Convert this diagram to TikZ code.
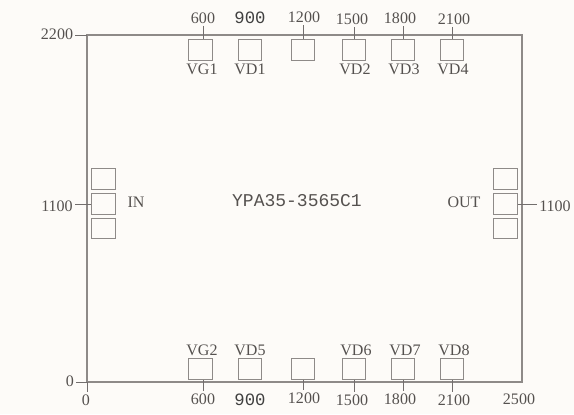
\documentclass[tikz,border=0pt]{standalone}
\usepackage{fontspec}
\setmainfont{Liberation Serif}
\setmonofont{Liberation Mono}
\usepackage{tikz}
\definecolor{paper}{HTML}{FDFBF8}
\definecolor{frameline}{HTML}{8E8A88}
\definecolor{inktext}{HTML}{55514F}
\tikzset{
  pad/.style={draw=frameline,line width=0.7pt,minimum width=0.66cm,minimum height=0.58cm,inner sep=0pt},
  lab/.style={text=inktext,font=\fontsize{13}{14}\selectfont,inner sep=0pt,outer sep=2pt},
  darklab/.style={lab,text=black!75,font=\ttfamily\fontsize{14}{15}\selectfont},
  tick/.style={draw=frameline!80!black,line width=0.6pt}
}
\begin{document}
\begin{tikzpicture}[x=0.0285cm,y=-0.0285cm]
\useasboundingbox[fill=paper] (0,0) rectangle (574,414);
% outline
\coordinate (tl) at (87,35);
\coordinate (tr) at (522,35);
\coordinate (br) at (522,382);
\coordinate (bl) at (87,382);
\draw[frameline,line width=0.9pt] (tl) -- (tr) -- (br) -- (bl) -- cycle;
% top pads
\node[pad] (g1) at (200.5,50) {};
\node[pad] (d1) at (250,50) {};
\node[pad] (t3) at (303,50) {};
\node[pad] (d2) at (354,50) {};
\node[pad] (d3) at (403,50) {};
\node[pad] (d4) at (452,50) {};
\node[lab] (g1l) at (202,69) {VG1};
\node[lab] (d1l) at (250,69) {VD1};
\node[lab] (d2l) at (355,69) {VD2};
\node[lab] (d3l) at (404,69) {VD3};
\node[lab] (d4l) at (453,69) {VD4};
\node[lab] (n1) at (203,18) {600};
\node[darklab] (n2) at (250,18) {900};
\node[lab] (n3) at (304,17) {1200};
\node[lab] (n4) at (352,19) {1500};
\node[lab] (n5) at (400,18) {1800};
\node[lab] (n6) at (454,19) {2100};
\draw[tick] (n1.south) -- (n1.south |- g1.north);
\draw[tick] (t3.north) -- (t3.north |- n3.south);
\draw[tick] (d2.north) -- (d2.north |- n4.south);
\draw[tick] (d3.north) -- (d3.north |- n5.south);
\draw[tick] (d4.north) -- (d4.north |- n6.south);
% bottom pads
\node[pad] (g2) at (200.5,369) {};
\node[pad] (d5) at (250,369) {};
\node[pad] (b3) at (303,369) {};
\node[pad] (d6) at (354,369) {};
\node[pad] (d7) at (403,369) {};
\node[pad] (d8) at (452,369) {};
\node[lab] (g2l) at (202,350) {VG2};
\node[lab] (d5l) at (250,350) {VD5};
\node[lab] (d6l) at (356,350) {VD6};
\node[lab] (d7l) at (405,350) {VD7};
\node[lab] (d8l) at (454,350) {VD8};
\node[lab] (s1) at (203,399) {600};
\node[darklab] (s2) at (250,400) {900};
\node[lab] (s3) at (304,398) {1200};
\node[lab] (s4) at (352,400) {1500};
\node[lab] (s5) at (400,399) {1800};
\node[lab] (s6) at (454,400) {2100};
\node[lab] (s7) at (519,399) {2500};
\node[lab] (s0) at (86,400) {0};
\draw[tick] (s1.north) -- (s1.north |- g2.south);
\draw[tick] (b3.south) -- (b3.south |- s3.north);
\draw[tick] (d6.south) -- (d6.south |- s4.north);
\draw[tick] (d7.south) -- (d7.south |- s5.north);
\draw[tick] (d8.south) -- (d8.south |- s6.north);
\draw[tick] (bl) -- (bl |- s0.north);
% left pads
\node[pad] (i1) at (103.5,179) {};
\node[pad] (i2) at (103.5,204) {};
\node[pad] (i3) at (103.5,228.5) {};
\node[lab] (in) at (136,202) {IN};
\node[lab] (y1) at (57,206) {1100};
\node[lab] (y2) at (57,34) {2200};
\node[lab] (y0) at (70,381) {0};
\draw[tick] (i2.west) -- (i2.west -| y1.east);
\draw[tick] (tl) -- (tl -| y2.east);
\draw[tick] (bl) -- (bl -| y0.east);
% right pads
\node[pad] (o1) at (505.5,179) {};
\node[pad] (o2) at (505.5,204) {};
\node[pad] (o3) at (505.5,228.5) {};
\node[lab] (out) at (464,202) {OUT};
\node[lab] (y3) at (555,206) {1100};
\draw[tick] (o2.east) -- (o2.east -| y3.west);
% chip name
\node[lab,font=\ttfamily\fontsize{14.6}{15}\selectfont] (name) at (297,201) {YPA35-3565C1};
\end{tikzpicture}
\end{document}
